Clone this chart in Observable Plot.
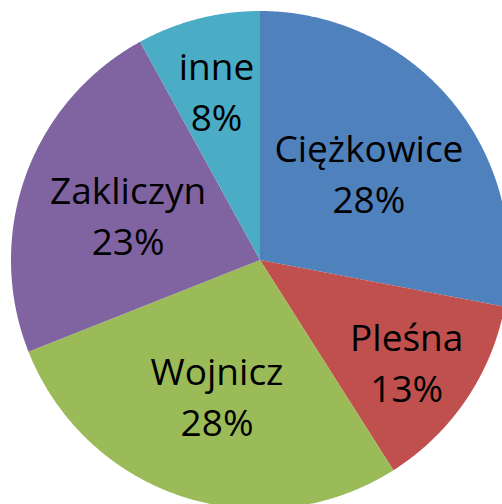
<!DOCTYPE html>
<html><head><meta charset="utf-8">
<script src="https://cdn.jsdelivr.net/npm/d3@7"></script>
<script src="https://cdn.jsdelivr.net/npm/@observablehq/plot@0.6"></script>
<style>html,body{margin:0;padding:0;background:#fff;overflow:hidden}</style>
</head><body><div id="chart"></div>
<script>
// Data
const categories = ["Ciężkowice", "Pleśna", "Wojnicz", "Zakliczyn", "inne"];
const shares = [28, 13, 28, 23, 8];
const percentLabels = ["28%", "13%", "28%", "23%", "8%"];
const colors = ["#4F81BD", "#C0504D", "#9BBB59", "#8064A2", "#4BACC6"];

const rows = categories.map((c, i) => ({category: c, share: shares[i], label: percentLabels[i]}));
const arcs = d3.pie().sort(null).value(d => d.share)(rows);

// Wedge outlines (geometry only): arc points, closed back to the centre by the area baseline
const wedgePoints = arcs.flatMap(a => {
  const step = Math.PI / 720;
  const n = Math.max(2, Math.ceil((a.endAngle - a.startAngle) / step) + 1);
  return d3.range(n).map(j => {
    const t = a.startAngle + (a.endAngle - a.startAngle) * j / (n - 1);
    return {category: a.data.category, x: Math.sin(t), y: Math.cos(t)};
  });
});

// Labels inside each slice along its middle angle; small slices push labels further out
const labels = arcs.map(a => {
  const mid = (a.startAngle + a.endAngle) / 2;
  const k = a.data.share < 15 ? 0.71 : 0.565;
  return {x: k * Math.sin(mid), y: k * Math.cos(mid), text: a.data.category + "\n" + a.data.label};
});

const chart = Plot.plot({
  width: 502,
  height: 504,
  margin: 0,
  style: {background: "white"},
  x: {domain: [-1, 1], range: [11, 509], axis: null},
  y: {domain: [-1, 1], range: [509, 11], axis: null},
  color: {domain: categories, range: colors},
  marks: [
    Plot.area(wedgePoints, {x1: "x", y1: "y", x2: 0, y2: 0, z: "category", fill: "category", curve: "linear"}),
    Plot.text(labels, {
      x: "x", y: "y", text: "text",
      fontSize: 37, fontFamily: "Open Sans", lineHeight: 1.38,
      fill: "black", textAnchor: "middle"
    })
  ]
});
document.getElementById("chart").append(chart);
</script>
</body></html>
